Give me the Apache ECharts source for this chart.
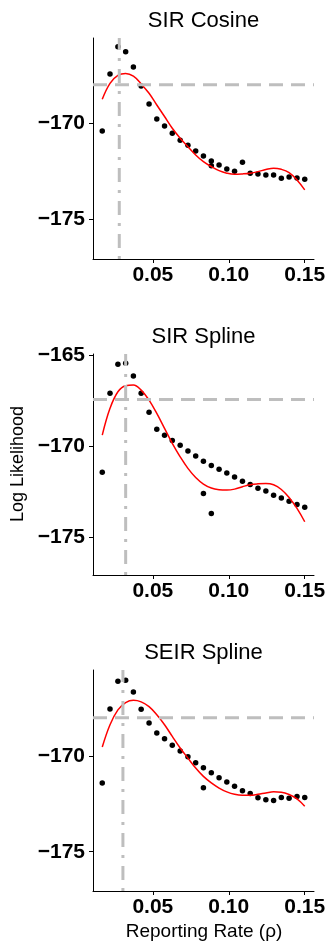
<!DOCTYPE html>
<html><head><meta charset="utf-8">
<script src="https://cdn.jsdelivr.net/npm/echarts@6/dist/echarts.min.js"></script>
<style>html,body{margin:0;padding:0;background:#fff}#c{width:329px;height:945px}</style>
</head><body><div id="c"></div><script>
// Reporting rate grid (x values)
const rho = [0.0167,0.0218,0.0270,0.0321,0.0372,0.0423,0.0475,0.0526,0.0577,0.0628,0.0680,0.0731,0.0782,0.0833,0.0885,0.0936,0.0987,0.1038,0.1090,0.1141,0.1192,0.1244,0.1295,0.1346,0.1397,0.1449,0.1500];
const panelTitles = ['SIR Cosine','SIR Spline','SEIR Spline'];

// Profile log likelihood points
const sirCosineLL = [-170.40,-167.43,-166.02,-166.28,-167.07,-168.06,-169.00,-169.78,-170.14,-170.52,-170.88,-171.15,-171.44,-171.70,-171.96,-172.17,-172.38,-172.50,-172.03,-172.60,-172.64,-172.70,-172.70,-172.86,-172.80,-172.85,-172.92];
const sirSplineLL = [-171.43,-167.10,-165.51,-165.46,-166.16,-167.10,-168.14,-169.08,-169.40,-169.69,-169.96,-170.27,-170.55,-170.83,-171.06,-171.27,-171.48,-171.70,-171.93,-172.10,-172.31,-172.47,-172.69,-172.85,-173.03,-173.20,-173.35];
const seirSplineLL = [-171.39,-167.52,-166.06,-166.01,-166.63,-167.53,-168.25,-168.77,-169.08,-169.41,-169.72,-170.02,-170.34,-170.59,-170.86,-171.12,-171.34,-171.56,-171.80,-171.95,-172.17,-172.27,-172.32,-172.15,-172.20,-172.11,-172.16];

// Extra replicate points at the same reporting rate
const sirCosineExtraRho = [0.0885];
const sirCosineExtraLL = [-172.21];
const sirSplineExtraRho = [0.0833,0.0885];
const sirSplineExtraLL = [-172.60,-173.70];
const seirSplineExtraRho = [0.0833];
const seirSplineExtraLL = [-171.65];

// Smoothed fit (red curve)
const sirCosineFit = [-168.75,-167.92,-167.51,-167.41,-167.55,-167.95,-168.44,-169.05,-169.65,-170.26,-170.78,-171.22,-171.65,-172.00,-172.26,-172.47,-172.60,-172.66,-172.64,-172.60,-172.52,-172.41,-172.34,-172.40,-172.57,-172.95,-173.47];
const sirSplineFit = [-169.40,-167.93,-167.02,-166.69,-166.65,-166.93,-167.48,-168.21,-169.03,-169.85,-170.59,-171.22,-171.72,-172.08,-172.30,-172.39,-172.41,-172.36,-172.23,-172.12,-172.07,-172.05,-172.12,-172.38,-172.82,-173.42,-174.15];
const seirSplineFit = [-169.51,-168.34,-167.56,-167.18,-167.06,-167.14,-167.39,-167.82,-168.34,-168.95,-169.56,-170.09,-170.61,-171.05,-171.39,-171.66,-171.86,-171.99,-172.04,-172.04,-171.99,-171.92,-171.86,-171.88,-172.00,-172.23,-172.61];

// MLE reporting rate and likelihood cutoff
const mleRho = [0.0279,0.0321,0.0303];
const cutoffLL = [-168.00,-167.45,-167.97];

// Axis limits and ticks
const xLimits = [0.0106,0.1561];
const yLimits = [[-177.07,-165.56],[-177.07,-164.95],[-177.06,-165.47]];
const xTicks = [0.05,0.10,0.15];
const yTicks = [[-175,-170],[-175,-170,-165],[-175,-170]];

const LL = [sirCosineLL, sirSplineLL, seirSplineLL];
const extraRho = [sirCosineExtraRho, sirSplineExtraRho, seirSplineExtraRho];
const extraLL = [sirCosineExtraLL, sirSplineExtraLL, seirSplineExtraLL];
const FIT = [sirCosineFit, sirSplineFit, seirSplineFit];

const FONT = '"Liberation Sans", Arial, sans-serif';
const tops = [38, 354, 670];
const H = 221, LEFT = 93, W = 221;

const grids = [], xAxes = [], yAxes = [], series = [], graphics = [];
for (let i = 0; i < 3; i++) {
  grids.push({left: LEFT, top: tops[i], width: W, height: H, containLabel: false});
  xAxes.push({
    type: 'value', gridIndex: i, min: xLimits[0], max: xLimits[1],
    axisLine: {show: true, onZero: false, lineStyle: {color: '#000', width: 1}},
    axisTick: {show: true, length: 4, lineStyle: {color: '#000', width: 1}, customValues: xTicks},
    axisLabel: {show: true, customValues: xTicks, margin: 6, color: '#000', fontFamily: FONT, fontWeight: 'bold', fontSize: 21,
      formatter: v => v.toFixed(2)},
    splitLine: {show: false}
  });
  yAxes.push({
    type: 'value', gridIndex: i, min: yLimits[i][0], max: yLimits[i][1],
    axisLine: {show: true, onZero: false, lineStyle: {color: '#000', width: 1}},
    axisTick: {show: true, length: 4, lineStyle: {color: '#000', width: 1}, customValues: yTicks[i]},
    axisLabel: {show: true, customValues: yTicks[i], margin: 8, color: '#000', fontFamily: FONT, fontWeight: 'bold', fontSize: 21,
      formatter: v => (v < 0 ? '\u2212' : '') + Math.abs(Math.round(v))},
    splitLine: {show: false}
  });
  const pts = rho.map((r, k) => [r, LL[i][k]]);
  extraRho[i].forEach((r, k) => pts.push([r, extraLL[i][k]]));
  series.push({type: 'scatter', xAxisIndex: i, yAxisIndex: i, data: pts, symbolSize: 5.5,
    itemStyle: {color: '#000', opacity: 1}, z: 2, silent: true});
  series.push({type: 'line', xAxisIndex: i, yAxisIndex: i, data: rho.map((r, k) => [r, FIT[i][k]]),
    smooth: 0.4, showSymbol: false, symbol: 'none', lineStyle: {color: '#ff0000', width: 1.5}, z: 3, silent: true});
  series.push({type: 'line', xAxisIndex: i, yAxisIndex: i, data: [[xLimits[0], cutoffLL[i]], [xLimits[1], cutoffLL[i]]],
    showSymbol: false, symbol: 'none', lineStyle: {color: '#bebebe', width: 3, type: [14, 8]}, z: 4, silent: true});
  series.push({type: 'line', xAxisIndex: i, yAxisIndex: i, data: [[mleRho[i], yLimits[i][0]], [mleRho[i], yLimits[i][1]]],
    showSymbol: false, symbol: 'none', lineStyle: {color: '#bebebe', width: 3, type: [3, 8, 14, 8]}, z: 4, silent: true});
  graphics.push({type: 'text', x: LEFT + W / 2, y: tops[i] - 17,
    style: {text: panelTitles[i], font: '22px ' + FONT, fill: '#000', align: 'center', verticalAlign: 'middle'}});
}
graphics.push({type: 'text', x: 18.5, y: 464, rotation: Math.PI / 2,
  style: {text: 'Log Likelihood', font: '18px ' + FONT, fill: '#000', align: 'center', verticalAlign: 'middle'}});
graphics.push({type: 'text', x: 204, y: 932,
  style: {text: 'Reporting Rate (\u03c1)', font: '19px ' + FONT, fill: '#000', align: 'center', verticalAlign: 'middle'}});

const chart = echarts.init(document.getElementById('c'), null, {renderer: 'canvas'});
chart.setOption({animation: false, backgroundColor: '#fff', grid: grids, xAxis: xAxes, yAxis: yAxes, series: series, graphic: graphics});
</script></body></html>
